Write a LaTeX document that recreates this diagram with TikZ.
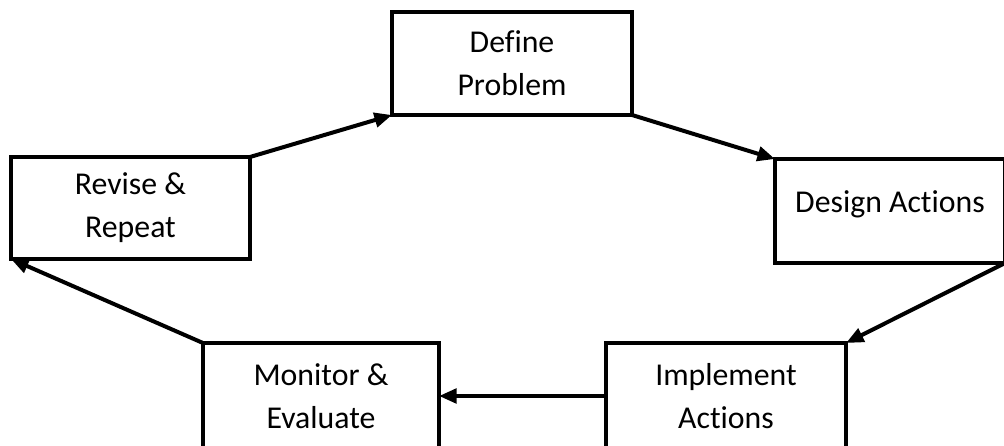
\documentclass[tikz,border=0pt]{standalone}
\usepackage{fontspec}
\setmainfont[Ligatures={NoCommon,NoRare}]{Carlito}
\usetikzlibrary{arrows.meta}
\tikzset{
  stage/.style={rectangle,draw=black,line width=1mm,fill=white,
                inner sep=2pt,outer sep=0pt,align=center,
                font=\fontsize{22.6}{30.5}\selectfont},
  edge/.style={-{Triangle[length=4.4mm,width=3.6mm]},line width=1mm},
}
\begin{document}
\begin{tikzpicture}[x=0.025cm,y=-0.025cm]
\useasboundingbox (0,0) rectangle (1004,446);
\clip (0,0) rectangle (1004,446);
\node[stage,minimum width=240*0.025cm,minimum height=103*0.025cm] (define) at (512,63.5) {Define\\Problem};
\node[stage,minimum width=239*0.025cm,minimum height=102*0.025cm] (revise) at (130.5,208) {Revise \&\\Repeat};
\node[stage,minimum width=230*0.025cm,minimum height=104*0.025cm] (design) at (890,211) {\raisebox{13pt}{Design Actions}};
\node[stage,minimum width=240*0.025cm,minimum height=106*0.025cm] (implement) at (726,396) {Implement\\Actions};
\node[stage,minimum width=236*0.025cm,minimum height=106*0.025cm] (monitor) at (321,396) {Monitor \&\\Evaluate};
\draw[edge] (revise.north east) -- (define.south west);
\draw[edge] (define.south east) -- (design.north west);
\draw[edge] (design.south east) -- (implement.north east);
\draw[edge] (implement.west) -- (monitor.east);
\draw[edge] (monitor.north west) -- (revise.south west);
\end{tikzpicture}
\end{document}
